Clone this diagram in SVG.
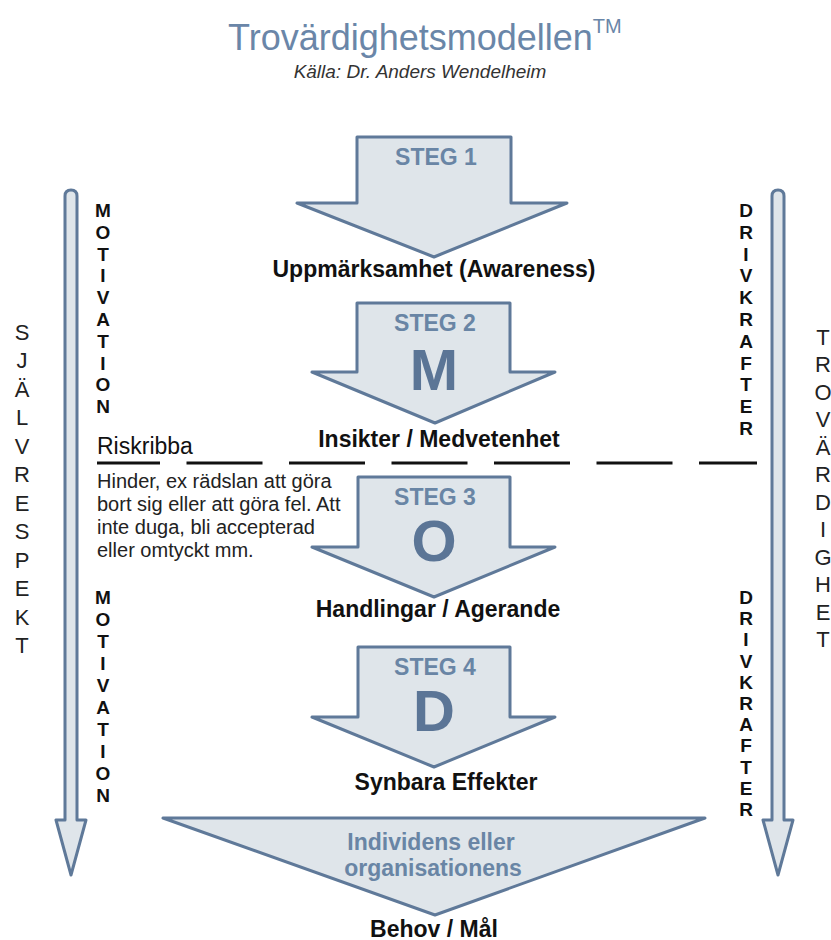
<svg xmlns="http://www.w3.org/2000/svg" width="831" height="940" viewBox="0 0 831 940">
<style>
.shape{fill:#dfe5ea;stroke:#5f7999;stroke-width:3;stroke-linejoin:round}
.steg{font-family:"Liberation Sans",Arial,sans-serif;font-weight:bold;font-size:23px;fill:#6985a5;text-anchor:middle}
.big{font-family:"Liberation Sans",Arial,sans-serif;font-weight:bold;font-size:58px;fill:#5b7596;text-anchor:middle}
.lbl{font-family:"Liberation Sans",Arial,sans-serif;font-weight:bold;font-size:23px;fill:#111;text-anchor:middle}
.vb{font-family:"Liberation Sans",Arial,sans-serif;font-weight:bold;font-size:19px;fill:#111;text-anchor:middle}
.vr{font-family:"Liberation Sans",Arial,sans-serif;font-size:22px;fill:#222;text-anchor:middle}
.txt{font-family:"Liberation Sans",Arial,sans-serif;font-size:20px;fill:#222}
</style>
<rect width="831" height="940" fill="#ffffff"/>
<g id="title">
<text x="228" y="50" font-family="'Liberation Sans',Arial,sans-serif" font-size="36" fill="#6a86a8">Trovärdighetsmodellen<tspan font-size="20" dy="-17">TM</tspan></text>
<text x="420" y="78" font-family="'Liberation Sans',Arial,sans-serif" font-size="19" font-style="italic" fill="#333" text-anchor="middle">Källa: Dr. Anders Wendelheim</text>
</g>
<g id="connectors">
<path class="shape" stroke-width="2.5" d="M65,820 L65,196 Q65,190 71,190 Q77,190 77,196 L77,820 L86,820 L71,875 L56,820 Z"/>
<path class="shape" stroke-width="2.5" d="M772,820 L772,196 Q772,190 778,190 Q784,190 784,196 L784,820 L793,820 L778,875 L763,820 Z"/>
<line x1="97" y1="463" x2="757" y2="463" stroke="#111" stroke-width="3" stroke-dasharray="76 26.5" stroke-dashoffset="13"/>
</g>
<g id="step1">
<path class="shape" d="M357,137 L511,137 L511,203 L567,203 L434,257 L297,203 L357,203 Z"/>
<text class="steg" x="436" y="165">STEG 1</text>
<text class="lbl" x="434" y="277">Uppmärksamhet (Awareness)</text>
</g>
<g id="step2">
<path class="shape" d="M357,303 L510,303 L510,372 L555,372 L435,423 L312,372 L357,372 Z"/>
<text class="steg" x="435" y="331">STEG 2</text>
<text class="big" x="434" y="390">M</text>
<text class="lbl" x="439" y="447">Insikter / Medvetenhet</text>
</g>
<g id="step3">
<path class="shape" d="M358,477 L510,477 L510,547 L555,547 L434,597 L312,547 L358,547 Z"/>
<text class="steg" x="435" y="505">STEG 3</text>
<text class="big" x="434" y="561">O</text>
<text class="lbl" x="438" y="617">Handlingar / Agerande</text>
</g>
<g id="step4">
<path class="shape" d="M358,647 L510,647 L510,717 L555,717 L434,767 L312,717 L358,717 Z"/>
<text class="steg" x="435" y="675">STEG 4</text>
<text class="big" x="434" y="731">D</text>
<text class="lbl" x="446" y="790">Synbara Effekter</text>
</g>
<g id="goal">
<path class="shape" d="M163,818 L705,818 L435,915 Z"/>
<text class="steg" x="431" y="850">Individens eller</text>
<text class="steg" x="433" y="876">organisationens</text>
<text class="lbl" x="434" y="937">Behov / Mål</text>
</g>
<g id="risk">
<text x="97" y="454" font-family="'Liberation Sans',Arial,sans-serif" font-size="23" fill="#111">Riskribba</text>
<text class="txt" x="97" y="488">Hinder, ex rädslan att göra</text>
<text class="txt" x="97" y="511">bort sig eller att göra fel. Att</text>
<text class="txt" x="97" y="534">inte duga, bli accepterad</text>
<text class="txt" x="97" y="557">eller omtyckt mm.</text>
</g>
<g id="motivation1" class="vb">
<text x="103" y="217">M</text><text x="103" y="239">O</text><text x="103" y="261">T</text><text x="103" y="282">I</text><text x="103" y="304">V</text><text x="103" y="326">A</text><text x="103" y="348">T</text><text x="103" y="370">I</text><text x="103" y="391">O</text><text x="103" y="413">N</text>
</g>
<g id="motivation2" class="vb">
<text x="103" y="604">M</text><text x="103" y="626">O</text><text x="103" y="648">T</text><text x="103" y="670">I</text><text x="103" y="692">V</text><text x="103" y="714">A</text><text x="103" y="736">T</text><text x="103" y="758">I</text><text x="103" y="780">O</text><text x="103" y="802">N</text>
</g>
<g id="drivkrafter1" class="vb">
<text x="746" y="217">D</text><text x="746" y="239">R</text><text x="746" y="261">I</text><text x="746" y="282">V</text><text x="746" y="304">K</text><text x="746" y="326">R</text><text x="746" y="348">A</text><text x="746" y="370">F</text><text x="746" y="391">T</text><text x="746" y="413">E</text><text x="746" y="435">R</text>
</g>
<g id="drivkrafter2" class="vb">
<text x="746" y="604">D</text><text x="746" y="625">R</text><text x="746" y="646">I</text><text x="746" y="668">V</text><text x="746" y="689">K</text><text x="746" y="710">R</text><text x="746" y="731">A</text><text x="746" y="752">F</text><text x="746" y="774">T</text><text x="746" y="795">E</text><text x="746" y="816">R</text>
</g>
<g id="sjalvrespekt" class="vr">
<text x="22" y="340">S</text><text x="22" y="368">J</text><text x="22" y="397">Ä</text><text x="22" y="425">L</text><text x="22" y="454">V</text><text x="22" y="482">R</text><text x="22" y="511">E</text><text x="22" y="539">S</text><text x="22" y="568">P</text><text x="22" y="596">E</text><text x="22" y="625">K</text><text x="22" y="653">T</text>
</g>
<g id="trovardighet" class="vr">
<text x="823" y="345">T</text><text x="823" y="372">R</text><text x="823" y="400">O</text><text x="823" y="427">V</text><text x="823" y="455">Ä</text><text x="823" y="482">R</text><text x="823" y="510">D</text><text x="823" y="537">I</text><text x="823" y="565">G</text><text x="823" y="592">H</text><text x="823" y="620">E</text><text x="823" y="647">T</text>
</g>
</svg>
